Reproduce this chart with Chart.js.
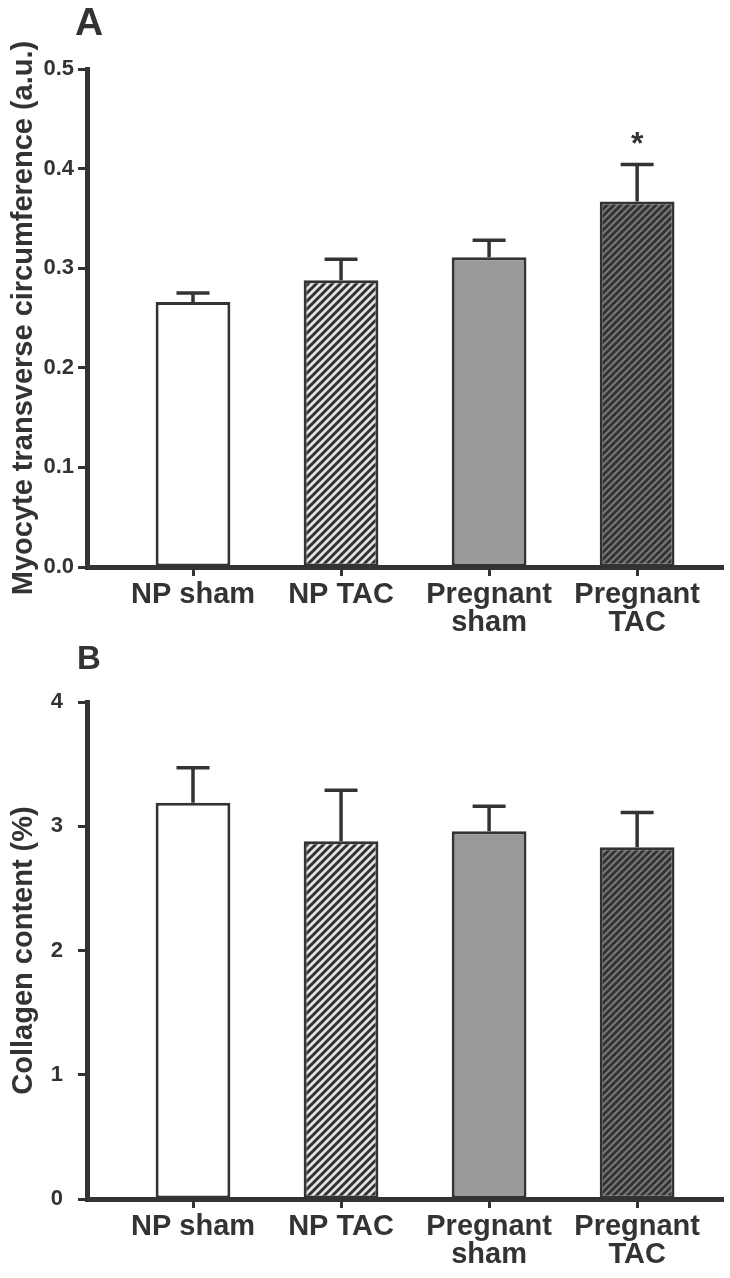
<!DOCTYPE html>
<html>
<head>
<meta charset="utf-8">
<script src="https://cdn.jsdelivr.net/npm/chart.js@4/dist/chart.umd.min.js"></script>
<style>
  body { margin: 0; background: #fff; }
  canvas { display: block; }
</style>
</head>
<body>
<canvas id="chart-a" width="730" height="640"></canvas>
<canvas id="chart-b" width="730" height="638"></canvas>
<script>
// Nhóm thí nghiệm (trục x)
const groups = ["NP sham", "NP TAC", ["Pregnant", "sham"], ["Pregnant", "TAC"]];

// Panel A: chu vi ngang tế bào cơ tim (a.u.)
const circMeans = [0.266, 0.288, 0.311, 0.367];
const circSem = [0.009, 0.021, 0.017, 0.037];
const circSig = ["", "", "", "*"];
const circTicks = [0, 0.1, 0.2, 0.3, 0.4, 0.5];

// Panel B: hàm lượng collagen (%)
const collMeans = [3.19, 2.88, 2.96, 2.83];
const collSem = [0.28, 0.41, 0.20, 0.28];
const collSig = ["", "", "", ""];
const collTicks = [0, 1, 2, 3, 4];

const INK = "#333333";
Chart.defaults.font.family = "'Liberation Sans', Arial, sans-serif";
Chart.defaults.color = INK;

// Tạo mẫu gạch chéo "/"
function hatch(bg, fg, size, width) {
    const c = document.createElement("canvas");
    c.width = size;
    c.height = size;
    const g = c.getContext("2d");
    g.fillStyle = bg;
    g.fillRect(0, 0, size, size);
    g.strokeStyle = fg;
    g.lineWidth = width;
    g.beginPath();
    g.moveTo(0, size); g.lineTo(size, 0);
    g.moveTo(-size, size); g.lineTo(size, -size);
    g.moveTo(0, 2 * size); g.lineTo(2 * size, 0);
    g.stroke();
    return g.createPattern(c, "repeat");
}

const fills = [
    "#ffffff",
    hatch("#e6e6e6", INK, 8, 3),
    "#999999",
    hatch("#7a7a7a", INK, 7, 3)
];

// Plugin vẽ thanh sai số, dấu * và chữ cái của panel
const extrasPlugin = {
    id: "extras",
    afterDatasetsDraw(chart, args, opts) {
        const c = chart.ctx;
        const meta = chart.getDatasetMeta(0);
        const yScale = chart.scales.y;
        c.save();
        c.strokeStyle = INK;
        c.fillStyle = INK;
        c.lineWidth = 3.5;
        meta.data.forEach((bar, i) => {
            const top = yScale.getPixelForValue(opts.means[i] + opts.sem[i]);
            c.beginPath();
            c.moveTo(bar.x, bar.y);
            c.lineTo(bar.x, top);
            c.moveTo(bar.x - 16.5, top);
            c.lineTo(bar.x + 16.5, top);
            c.stroke();
            if (opts.sig[i]) {
                c.font = "bold 32px 'Liberation Sans', Arial, sans-serif";
                c.textAlign = "center";
                c.textBaseline = "alphabetic";
                c.fillText(opts.sig[i], bar.x, top - 11);
            }
        });
        c.font = "bold " + opts.letterSize + "px 'Liberation Sans', Arial, sans-serif";
        c.textAlign = "left";
        c.textBaseline = "alphabetic";
        c.fillText(opts.letter, opts.letterX, opts.letterY);
        c.restore();
    }
};

function buildChart(canvasId, means, sem, sig, yTicks, cfg) {
    const canvas = document.getElementById(canvasId);
    const ctx = canvas.getContext("2d");
    return new Chart(ctx, {
        type: "bar",
        data: {
            datasets: [{
                data: means.map((v, i) => ({ x: i, y: v })),
                backgroundColor: fills,
                borderColor: INK,
                borderWidth: 3,
                borderSkipped: false,
                categoryPercentage: 1,
                barPercentage: 0.505
            }]
        },
        options: {
            responsive: false,
            animation: false,
            layout: { padding: { top: cfg.top, right: 7, left: 0, bottom: 0 } },
            plugins: {
                legend: { display: false },
                tooltip: { enabled: false },
                extras: {
                    means: means, sem: sem, sig: sig,
                    letter: cfg.letter, letterX: cfg.letterX, letterY: cfg.letterY, letterSize: cfg.letterSize
                }
            },
            scales: {
                x: {
                    type: "linear",
                    min: -0.716,
                    max: 3.58,
                    offset: false,
                    afterBuildTicks: (s) => { s.ticks = groups.map((g, i) => ({ value: i })); },
                    afterFit: (s) => { s.height = cfg.xHeight; },
                    ticks: {
                        callback: (v) => groups[v],
                        autoSkip: false,
                        maxRotation: 0,
                        padding: 5,
                        color: INK,
                        font: { size: 29, weight: "bold", lineHeight: 0.97 }
                    },
                    grid: {
                        offset: false,
                        drawOnChartArea: false,
                        drawTicks: true,
                        tickLength: 9,
                        tickWidth: 3,
                        tickColor: INK
                    },
                    border: { display: true, color: INK, width: 5 }
                },
                y: {
                    min: yTicks[0],
                    max: yTicks[yTicks.length - 1],
                    afterBuildTicks: (s) => { s.ticks = yTicks.map((v) => ({ value: v })); },
                    afterFit: (s) => { s.width = 87; },
                    ticks: {
                        callback: (v) => v.toFixed(cfg.decimals),
                        padding: cfg.tickPad,
                        color: INK,
                        font: { size: 22, weight: "bold" }
                    },
                    grid: {
                        drawOnChartArea: false,
                        drawTicks: true,
                        tickLength: 9,
                        tickWidth: 3,
                        tickColor: INK
                    },
                    border: { display: true, color: INK, width: 5 },
                    title: {
                        display: true,
                        text: cfg.title,
                        color: INK,
                        padding: { top: 7, bottom: 0 },
                        font: { size: 29, weight: "bold", lineHeight: 1.2 }
                    }
                }
            }
        },
        plugins: [extrasPlugin]
    });
}

buildChart("chart-a", circMeans, circSem, circSig, circTicks, {
    top: 69, xHeight: 73, decimals: 1, tickPad: 4,
    title: "Myocyte transverse circumference (a.u.)",
    letter: "A", letterX: 75, letterY: 35, letterSize: 39
});

buildChart("chart-b", collMeans, collSem, collSig, collTicks, {
    top: 62, xHeight: 79, decimals: 0, tickPad: 15,
    title: "Collagen content (%)",
    letter: "B", letterX: 77, letterY: 29, letterSize: 33
});
</script>
</body>
</html>
